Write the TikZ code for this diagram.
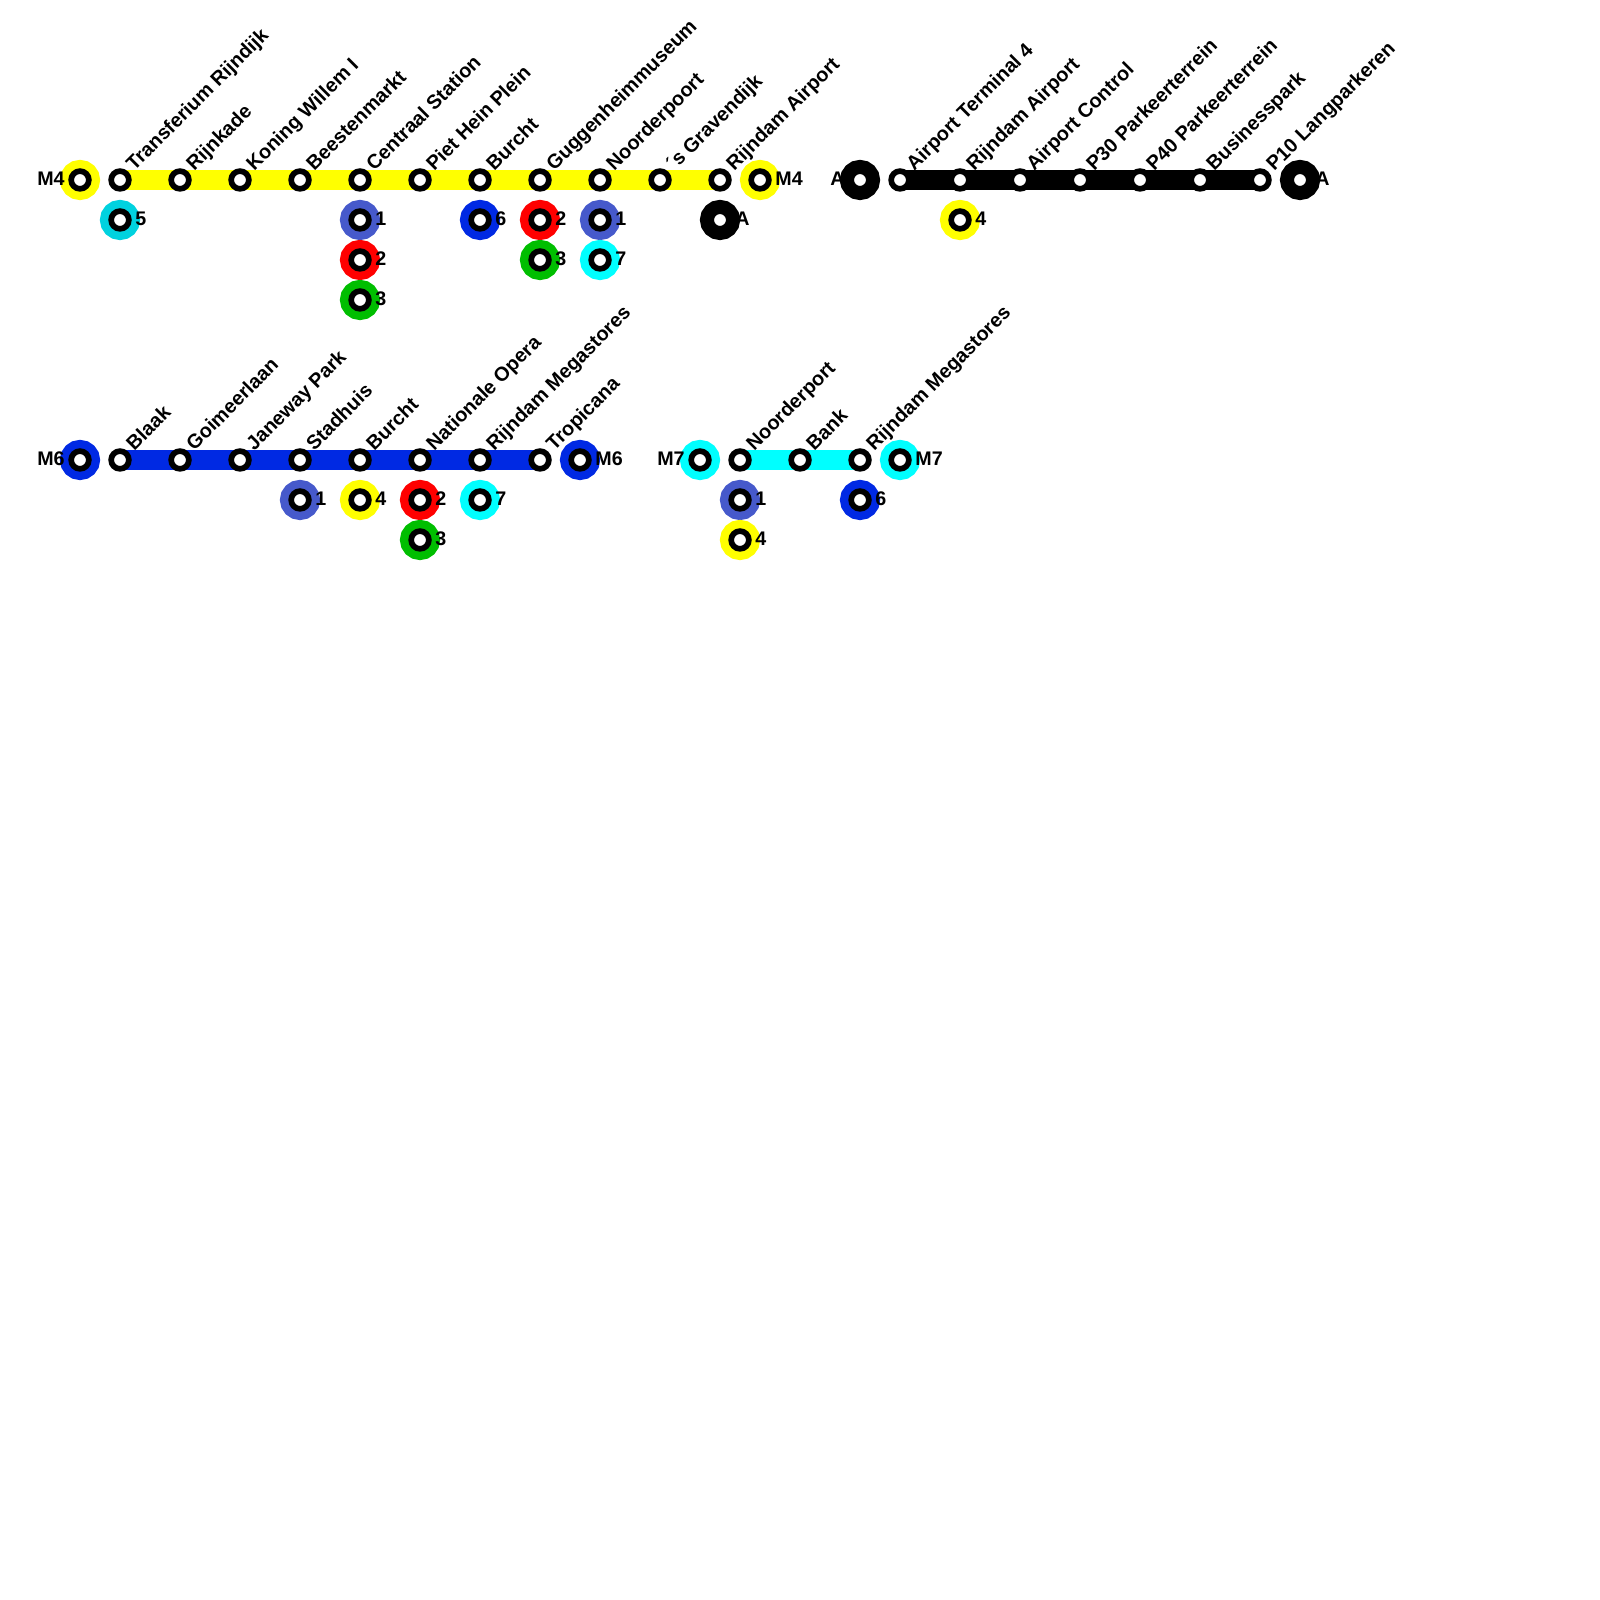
\documentclass[tikz,border=0pt]{standalone}
\usepackage{fontspec}
\setmainfont{Liberation Sans}
\usetikzlibrary{backgrounds}
\definecolor{lineyellow}{HTML}{FFFF00}
\definecolor{lineturq}{HTML}{00D2DF}
\definecolor{lineslate}{HTML}{4659CB}
\definecolor{linered}{HTML}{FF0000}
\definecolor{linegreen}{HTML}{00BE00}
\definecolor{lineblue}{HTML}{0029E3}
\definecolor{linecyan}{HTML}{00FFFF}

\begin{document}
\begin{tikzpicture}[
  stop/.style={circle,draw=black,fill=white,line width=1.62pt,minimum size=1.77mm,inner sep=0pt},
  hub/.style={stop,preaction={draw=#1,line width=6.34pt}},
  route/.style={line width=5.69pt,draw=#1},
  stn/.style={font=\fontsize{5.65}{6}\selectfont\bfseries,inner sep=0pt,xshift=0.22mm,yshift=0.8mm,rotate=45,anchor=base west},
  rnum/.style={font=\fontsize{5.6}{6}\selectfont\bfseries,inner sep=0pt,xshift=0.3mm,yshift=0.15mm},
  lnum/.style={font=\fontsize{5.6}{6}\selectfont\bfseries,inner sep=0pt,xshift=-0.3mm,yshift=0.15mm}
]
\useasboundingbox (0,0) rectangle (16,16);

% ---- line M4 ----
\node[hub=lineyellow,label={[lnum]left:M4}] (m4w) at (0.8,14.2) {};
\node[stop,label={[stn]right:Transferium Rijndijk}] (m4a) at (1.2,14.2) {};
\node[stop,label={[stn]right:Rijnkade}] (m4b) at (1.8,14.2) {};
\node[stop,label={[stn]right:Koning Willem I}] (m4c) at (2.4,14.2) {};
\node[stop,label={[stn]right:Beestenmarkt}] (m4d) at (3.0,14.2) {};
\node[stop,label={[stn]right:Centraal Station}] (m4e) at (3.6,14.2) {};
\node[stop,label={[stn]right:Piet Hein Plein}] (m4f) at (4.2,14.2) {};
\node[stop,label={[stn]right:Burcht}] (m4g) at (4.8,14.2) {};
\node[stop,label={[stn]right:Guggenheimmuseum}] (m4h) at (5.4,14.2) {};
\node[stop,label={[stn]right:Noorderpoort}] (m4i) at (6.0,14.2) {};
\node[stop,label={[stn]right:´s Gravendijk}] (m4j) at (6.6,14.2) {};
\node[stop,label={[stn]right:Rijndam Airport}] (m4k) at (7.2,14.2) {};
\node[hub=lineyellow,label={[rnum]right:M4}] (m4e2) at (7.6,14.2) {};

% transfers
\node[hub=lineturq,label={[rnum]right:5}] (ta5) at (1.2,13.8) {};
\node[hub=lineslate,label={[rnum]right:1}] (te1) at (3.6,13.8) {};
\node[hub=linered,label={[rnum]right:2}] (te2) at (3.6,13.4) {};
\node[hub=linegreen,label={[rnum]right:3}] (te3) at (3.6,13.0) {};
\node[hub=lineblue,label={[rnum]right:6}] (tg6) at (4.8,13.8) {};
\node[hub=linered,label={[rnum]right:2}] (th2) at (5.4,13.8) {};
\node[hub=linegreen,label={[rnum]right:3}] (th3) at (5.4,13.4) {};
\node[hub=lineslate,label={[rnum]right:1}] (ti1) at (6.0,13.8) {};
\node[hub=linecyan,label={[rnum]right:7}] (ti7) at (6.0,13.4) {};
\node[hub=black,label={[rnum]right:A}] (tkA) at (7.2,13.8) {};

% ---- airport line ----
\node[hub=black,label={[lnum]left:A}] (aw) at (8.6,14.2) {};
\node[stop,label={[stn]right:Airport Terminal 4}] (aa) at (9.0,14.2) {};
\node[stop,label={[stn]right:Rijndam Airport}] (ab) at (9.6,14.2) {};
\node[stop,label={[stn]right:Airport Control}] (ac) at (10.2,14.2) {};
\node[stop,label={[stn]right:P30 Parkeerterrein}] (ad) at (10.8,14.2) {};
\node[stop,label={[stn]right:P40 Parkeerterrein}] (ae) at (11.4,14.2) {};
\node[stop,label={[stn]right:Businesspark}] (af) at (12.0,14.2) {};
\node[stop,label={[stn]right:P10 Langparkeren}] (ag) at (12.6,14.2) {};
\node[hub=black,label={[rnum]right:A}] (ae2) at (13.0,14.2) {};
\node[hub=lineyellow,label={[rnum]right:4}] (tb4) at (9.6,13.8) {};

% ---- line M6 ----
\node[hub=lineblue,label={[lnum]left:M6}] (m6w) at (0.8,11.4) {};
\node[stop,label={[stn]right:Blaak}] (m6a) at (1.2,11.4) {};
\node[stop,label={[stn]right:Goimeerlaan}] (m6b) at (1.8,11.4) {};
\node[stop,label={[stn]right:Janeway Park}] (m6c) at (2.4,11.4) {};
\node[stop,label={[stn]right:Stadhuis}] (m6d) at (3.0,11.4) {};
\node[stop,label={[stn]right:Burcht}] (m6e) at (3.6,11.4) {};
\node[stop,label={[stn]right:Nationale Opera}] (m6f) at (4.2,11.4) {};
\node[stop,label={[stn]right:Rijndam Megastores}] (m6g) at (4.8,11.4) {};
\node[stop,label={[stn]right:Tropicana}] (m6h) at (5.4,11.4) {};
\node[hub=lineblue,label={[rnum]right:M6}] (m6e2) at (5.8,11.4) {};

\node[hub=lineslate,label={[rnum]right:1}] (ud1) at (3.0,11.0) {};
\node[hub=lineyellow,label={[rnum]right:4}] (ue4) at (3.6,11.0) {};
\node[hub=linered,label={[rnum]right:2}] (uf2) at (4.2,11.0) {};
\node[hub=linegreen,label={[rnum]right:3}] (uf3) at (4.2,10.6) {};
\node[hub=linecyan,label={[rnum]right:7}] (ug7) at (4.8,11.0) {};

% ---- line M7 ----
\node[hub=linecyan,label={[lnum]left:M7}] (m7w) at (7.0,11.4) {};
\node[stop,label={[stn]right:Noorderport}] (m7a) at (7.4,11.4) {};
\node[stop,label={[stn]right:Bank}] (m7b) at (8.0,11.4) {};
\node[stop,label={[stn]right:Rijndam Megastores}] (m7c) at (8.6,11.4) {};
\node[hub=linecyan,label={[rnum]right:M7}] (m7e2) at (9.0,11.4) {};

\node[hub=lineslate,label={[rnum]right:1}] (va1) at (7.4,11.0) {};
\node[hub=lineyellow,label={[rnum]right:4}] (va4) at (7.4,10.6) {};
\node[hub=lineblue,label={[rnum]right:6}] (vc6) at (8.6,11.0) {};

% ---- route bars behind the stops ----
\begin{scope}[on background layer]
\draw[route=lineyellow] (m4a.center)--(m4k.center);
\draw[route=black] (aa.center)--(ag.center);
\draw[route=lineblue] (m6a.center)--(m6h.center);
\draw[route=linecyan] (m7a.center)--(m7c.center);
\end{scope}

\end{tikzpicture}
\end{document}
